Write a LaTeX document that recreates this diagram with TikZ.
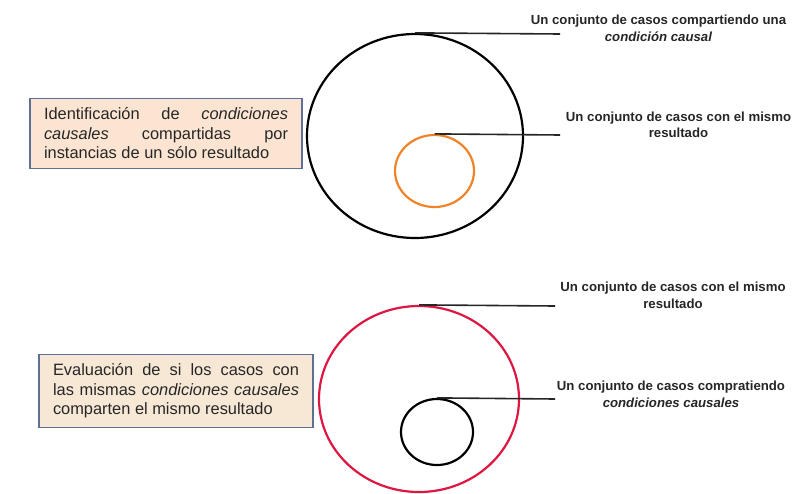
\documentclass[tikz,border=0pt]{standalone}
\usepackage{fontspec}
\setmainfont{Liberation Sans}
\usetikzlibrary{shapes.geometric}
\definecolor{peach}{RGB}{251,229,210}
\definecolor{beige}{RGB}{247,232,214}
\definecolor{boxedge}{RGB}{95,112,150}
\definecolor{ringred}{RGB}{222,22,66}
\definecolor{ringorange}{RGB}{240,130,40}
\hyphenpenalty=10000
\exhyphenpenalty=10000
\tikzset{
  infobox/.style={draw=boxedge, line width=1.2pt, inner xsep=14pt, inner ysep=9pt,
    align=justify, font=\fontsize{16.4}{19.5}\selectfont, text=black!85},
  ring/.style={ellipse, draw, line width=2.2pt, inner sep=0pt},
  leader/.style={line width=1.6pt, black!85},
  tag/.style={align=center, font=\bfseries\fontsize{13.2}{16.5}\selectfont, text=black!85}
}
\begin{document}
\begin{tikzpicture}[x=1pt,y=-1pt]
\useasboundingbox (0,0) rectangle (811,493);
% top part
\node[infobox, fill=peach, text width=244pt] (b1) at (166,133.5)
  {Identificación de \textit{condiciones}\linebreak
   \textit{causales} compartidas por\linebreak
   instancias de un sólo resultado};
\node[ring, minimum width=216pt, minimum height=204pt] (c1) at (415,136) {};
\node[ring, draw=ringorange, minimum width=79pt, minimum height=72pt] (c2) at (434.5,171) {};
\coordinate (e1) at (560,34);
\coordinate (e2) at (560,135);
\draw[leader] (c1.north) -- (e1);
\draw[leader] (c2.north) -- (e2);
\node[tag] (t1) at (658.5,28.5) {Un conjunto de casos compartiendo una\\\textit{condición causal}};
\node[tag] (t2) at (678.5,125) {Un conjunto de casos con el mismo\\resultado};
% bottom part
\node[infobox, fill=beige, text width=246pt] (b2) at (176,391)
  {Evaluación de si los casos con\linebreak
   las mismas \textit{condiciones causales}\linebreak
   comparten el mismo resultado};
\node[ring, draw=ringred, minimum width=200pt, minimum height=186pt] (c3) at (419,399) {};
\node[ring, minimum width=72pt, minimum height=66pt] (c4) at (437,432) {};
\coordinate (e3) at (555,306);
\coordinate (e4) at (555,399);
\draw[leader] (c3.north) -- (e3);
\draw[leader] (c4.north) -- (e4);
\node[tag] (t3) at (673,295.5) {Un conjunto de casos con el mismo\\resultado};
\node[tag] (t4) at (671,394.5) {Un conjunto de casos compratiendo\\\textit{condiciones causales}};
\end{tikzpicture}
\end{document}
